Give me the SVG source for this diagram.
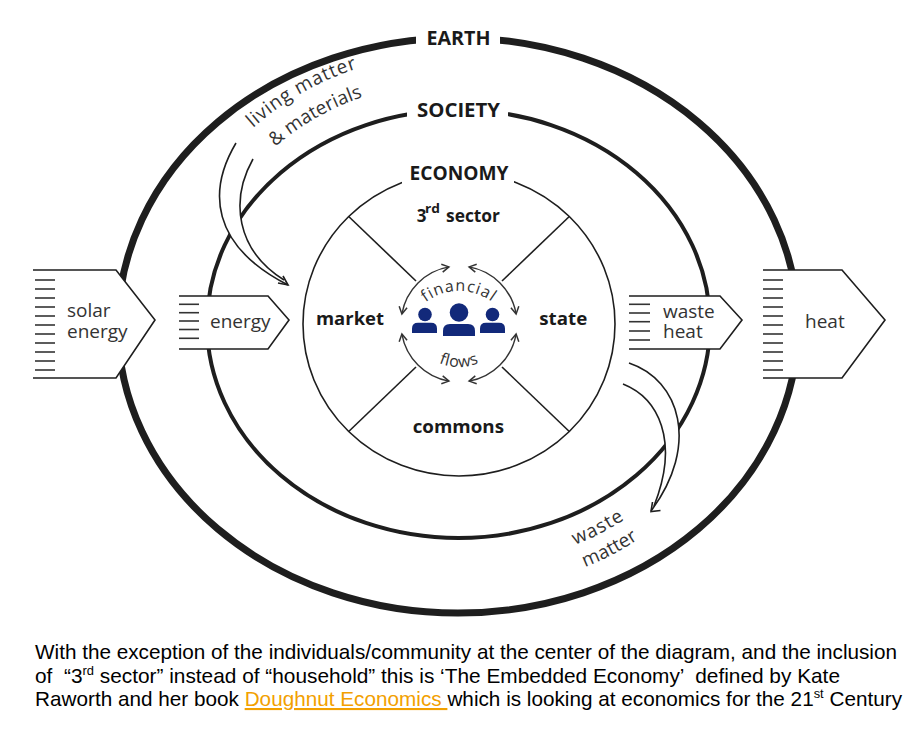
<svg xmlns="http://www.w3.org/2000/svg" width="918" height="729" viewBox="0 0 918 729">
<style>
.lbl{font-family:"Open Sans","DejaVu Sans",sans-serif;font-weight:700;fill:#1a1a1a;}
.txt{font-family:"Open Sans","DejaVu Sans",sans-serif;font-weight:400;fill:#333;}
.cap{font-family:"Liberation Sans",Arial,sans-serif;font-size:21px;fill:#000;}
.ln{fill:none;stroke:#1e1e1e;}
.blk{fill:#fff;stroke:#1e1e1e;stroke-width:1.6;stroke-linejoin:miter;}
.hatch{stroke:#333;stroke-width:1.6;}
.person{fill:#12297a;}
.flow{fill:none;stroke:#333;stroke-width:1.4;marker-start:url(#chev);marker-end:url(#chev);}
</style>
<defs>
<marker id="chev" viewBox="0 0 10 10" refX="8" refY="5" markerWidth="10" markerHeight="10" markerUnits="userSpaceOnUse" orient="auto-start-reverse">
<path d="M1,1 L8,5 L1,9" fill="none" stroke="#333" stroke-width="1.5"/>
</marker>
<path id="pFin" d="M404,346 A55,55 0 0 1 514,346"/>
<path id="pFlows" d="M407,315 A52,52 0 0 0 511,315"/>
<path id="pLiving" d="M253,128 A296,296 0 0 1 450,54"/>
<path id="pMat" d="M275,146.7 A267,267 0 0 1 450,83"/>
<path id="pWaste" d="M575,545 A262,262 0 0 0 742,300"/>
<path id="pMatter" d="M585,567 A287.5,287.5 0 0 0 767.5,300"/>
</defs>
<rect width="918" height="729" fill="#fff"/>

<g id="earth">
<ellipse class="ln" cx="458" cy="325.5" rx="340" ry="287.5" stroke-width="7"/>
<rect x="416" y="26" width="84" height="24" fill="#fff"/>
<text class="lbl" x="458.5" y="45" font-size="19" text-anchor="middle" textLength="64" lengthAdjust="spacingAndGlyphs">EARTH</text>
</g>

<g id="society">
<ellipse class="ln" cx="458.5" cy="324" rx="251.5" ry="214" stroke-width="4"/>
<rect x="407" y="98" width="101" height="24" fill="#fff"/>
<text class="lbl" x="458.5" y="116.7" font-size="19" text-anchor="middle" textLength="83" lengthAdjust="spacingAndGlyphs">SOCIETY</text>
</g>

<g id="economy">
<ellipse class="ln" cx="459" cy="324" rx="156" ry="152" stroke-width="1.6"/>
<rect x="402" y="162" width="112" height="24" fill="#fff"/>
<text class="lbl" x="459" y="180" font-size="19" text-anchor="middle" textLength="99" lengthAdjust="spacingAndGlyphs">ECONOMY</text>
<g class="ln" stroke-width="1.6">
<line x1="348.7" y1="216.5" x2="416" y2="281"/>
<line x1="569.3" y1="216.5" x2="502" y2="281"/>
<line x1="348.7" y1="431.5" x2="416" y2="367"/>
<line x1="569.3" y1="431.5" x2="502" y2="367"/>
</g>
</g>

<g id="third-sector">
<text class="lbl" x="416.7" y="221.7" font-size="17">3</text>
<text class="lbl" x="425" y="213" font-size="12" textLength="15" lengthAdjust="spacingAndGlyphs">rd</text>
<text class="lbl" x="446" y="221.7" font-size="17" textLength="54" lengthAdjust="spacingAndGlyphs">sector</text>
</g>
<g id="market"><text class="lbl" x="316" y="325" font-size="18" textLength="68" lengthAdjust="spacingAndGlyphs">market</text></g>
<g id="state"><text class="lbl" x="539.3" y="325" font-size="18" textLength="48" lengthAdjust="spacingAndGlyphs">state</text></g>
<g id="commons"><text class="lbl" x="412.7" y="432.7" font-size="18" textLength="91.3" lengthAdjust="spacingAndGlyphs">commons</text></g>

<g id="community">
<circle class="person" cx="425" cy="314.5" r="6.8"/>
<path class="person" d="M412,333 V328.5 Q412,322.8 418,322.8 H431 Q437,322.8 437,328.5 V333 Z"/>
<circle class="person" cx="459" cy="312.5" r="9.3"/>
<path class="person" d="M443,336 V331 Q443,324 450,324 H468 Q475,324 475,331 V336 Z"/>
<circle class="person" cx="492.5" cy="314.5" r="6.8"/>
<path class="person" d="M480,333 V328.5 Q480,322.8 486,322.8 H499 Q505,322.8 505,328.5 V333 Z"/>
</g>

<g id="financial-flows">
<path class="flow" d="M448.9,266.9 A58,58 0 0 0 401.9,313.9"/>
<path class="flow" d="M469.1,266.9 A58,58 0 0 1 516.1,313.9"/>
<path class="flow" d="M516.1,334.1 A58,58 0 0 1 469.1,381.1"/>
<path class="flow" d="M401.9,334.1 A58,58 0 0 0 448.9,381.1"/>
<text class="txt" font-size="16" letter-spacing="1"><textPath href="#pFin" startOffset="50%" text-anchor="middle">financial</textPath></text>
<text class="txt" font-size="16" letter-spacing="0.5"><textPath href="#pFlows" startOffset="50%" text-anchor="middle">flows</textPath></text>
</g>

<g id="connectors">
<g id="living-matter-arrow">
<path d="M236,143 C208,190 210,245 288,285 L284,280 C236,250 230,200 253,159 Z" fill="#fff"/>
<path class="ln" stroke-width="1.6" d="M236,143 C208,190 210,245 288,285"/>
<path class="ln" stroke-width="1.6" d="M253,159 C230,200 236,250 284,280"/>
<path class="ln" stroke-width="1.6" d="M278,283 L288,285 L283,276"/>
</g>
<g id="waste-matter-arrow">
<path d="M629,363 C680,380 700,445 651,511 L654,506 C680,440 658,398 623,384 Z" fill="#fff"/>
<path class="ln" stroke-width="1.6" d="M629,363 C680,380 700,445 651,511"/>
<path class="ln" stroke-width="1.6" d="M623,384 C658,398 680,440 654,506"/>
<path class="ln" stroke-width="1.6" d="M660.5,510.5 L651,511.5 L652.5,502"/>
</g>
</g>

<g id="living-matter-label">
<text class="txt" font-size="19" letter-spacing="0.8"><textPath href="#pLiving">living matter</textPath></text>
<text class="txt" font-size="19"><textPath href="#pMat">&amp; materials</textPath></text>
</g>
<g id="waste-matter-label">
<text class="txt" font-size="19" letter-spacing="1"><textPath href="#pWaste">waste</textPath></text>
<text class="txt" font-size="19"><textPath href="#pMatter">matter</textPath></text>
</g>

<g id="solar-energy">
<path class="blk" d="M33,270 H116 L155,320 L116,378 H33"/>
<g class="hatch">
<line x1="35" y1="280" x2="55" y2="280"/><line x1="35" y1="289" x2="55" y2="289"/><line x1="35" y1="298" x2="55" y2="298"/><line x1="35" y1="307" x2="55" y2="307"/><line x1="35" y1="316" x2="55" y2="316"/><line x1="35" y1="325" x2="55" y2="325"/><line x1="35" y1="334" x2="55" y2="334"/><line x1="35" y1="343" x2="55" y2="343"/><line x1="35" y1="352" x2="55" y2="352"/><line x1="35" y1="361" x2="55" y2="361"/><line x1="35" y1="370" x2="55" y2="370"/>
</g>
<text class="txt" x="67" y="316.7" font-size="19">solar</text>
<text class="txt" x="67" y="337.7" font-size="19">energy</text>
</g>

<g id="energy">
<path class="blk" d="M179,296 H268 L289,320 L268,349 H179"/>
<g class="hatch">
<line x1="179" y1="304.3" x2="199" y2="304.3"/><line x1="179" y1="312.7" x2="199" y2="312.7"/><line x1="179" y1="321" x2="199" y2="321"/><line x1="179" y1="329.5" x2="199" y2="329.5"/><line x1="179" y1="338.3" x2="199" y2="338.3"/>
</g>
<text class="txt" x="210" y="327.7" font-size="19">energy</text>
</g>

<g id="waste-heat">
<path class="blk" d="M629,296 H720 L742,320 L720,349 H629"/>
<g class="hatch">
<line x1="629" y1="304.3" x2="650" y2="304.3"/><line x1="629" y1="313" x2="650" y2="313"/><line x1="629" y1="321.7" x2="650" y2="321.7"/><line x1="629" y1="331" x2="650" y2="331"/><line x1="629" y1="340" x2="650" y2="340"/>
</g>
<text class="txt" x="663" y="317.7" font-size="19">waste</text>
<text class="txt" x="663" y="338.3" font-size="19">heat</text>
</g>

<g id="heat">
<path class="blk" d="M763,270 H842 L885,320 L842,378 H763"/>
<g class="hatch">
<line x1="763" y1="280" x2="783" y2="280"/><line x1="763" y1="289" x2="783" y2="289"/><line x1="763" y1="298" x2="783" y2="298"/><line x1="763" y1="307" x2="783" y2="307"/><line x1="763" y1="316" x2="783" y2="316"/><line x1="763" y1="325" x2="783" y2="325"/><line x1="763" y1="334" x2="783" y2="334"/><line x1="763" y1="343" x2="783" y2="343"/><line x1="763" y1="352" x2="783" y2="352"/><line x1="763" y1="361" x2="783" y2="361"/><line x1="763" y1="370" x2="783" y2="370"/>
</g>
<text class="txt" x="805" y="327.7" font-size="19">heat</text>
</g>

<g id="caption">
<text class="cap" x="35" y="659" textLength="862" lengthAdjust="spacingAndGlyphs">With the exception of the individuals/community at the center of the diagram, and the inclusion</text>
<text class="cap" x="35" y="683" xml:space="preserve" textLength="805" lengthAdjust="spacingAndGlyphs">of  “3<tspan font-size="13" dy="-8">rd</tspan><tspan dy="8"> sector” instead of “household” this is ‘The Embedded Economy’  defined by Kate</tspan></text>
<text class="cap" x="35" y="706" xml:space="preserve" textLength="867" lengthAdjust="spacingAndGlyphs">Raworth and her book <tspan fill="#f2a000" text-decoration="underline">Doughnut Economics </tspan>which is looking at economics for the 21<tspan font-size="13" dy="-8">st</tspan><tspan dy="8"> Century</tspan></text>
</g>
</svg>
